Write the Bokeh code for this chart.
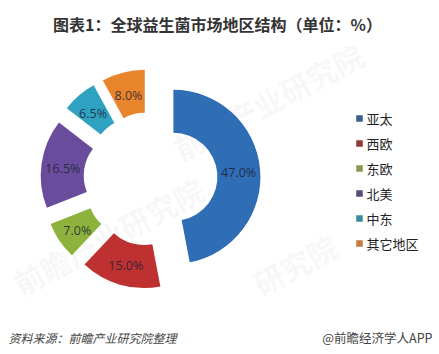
import math
from bokeh.plotting import figure
from bokeh.models import Range1d, ColumnDataSource
from bokeh.core.properties import value
from bokeh.embed import file_html
from bokeh.resources import INLINE

categories = ["亚太", "西欧", "东欧", "北美", "中东", "其它地区"]
shares = [47.0, 15.0, 7.0, 16.5, 6.5, 8.0]
labels = ["47.0%", "15.0%", "7.0%", "16.5%", "6.5%", "8.0%"]
colors = ["#2f6db5", "#bf3030", "#8db33c", "#6a4c9c", "#2fa2c2", "#e8852c"]
legend_colors = ["#3a5f8f", "#8f3a3c", "#86994f", "#5a4a7a", "#3a8a9c", "#c87a3c"]

W, H = 439, 354
CX, CY = 150.0, H - 178.5
R_OUT, R_IN, EXPLODE = 87.0, 44.0, 23.0
FONT = "Noto Sans CJK SC"

p = figure(width=W, height=H, x_range=Range1d(0, W), y_range=Range1d(0, H),
           output_backend="svg", toolbar_location=None, min_border=0)
p.axis.visible = False
p.grid.visible = False
p.outline_line_color = None
p.background_fill_color = "white"

# watermarks
wm = ColumnDataSource(dict(x=[175, 15, 255], y=[H - 150, H - 285, H - 285],
                           t=["前瞻产业研究院", "前瞻产业研究院", "研究院"]))
p.text(x="x", y="y", text="t", source=wm, angle=math.radians(28),
       text_font=value(FONT), text_font_size="30px", text_font_style="bold",
       text_color="#b0b0b0", text_alpha=0.11, text_baseline="middle")

total = sum(shares)
xs, ys, starts, ends, lx, ly = [], [], [], [], [], []
acc = 0.0
for s in shares:
    t0 = acc / total * 2 * math.pi
    acc += s
    t1 = acc / total * 2 * math.pi
    tm = (t0 + t1) / 2
    cx = CX + EXPLODE * math.sin(tm)
    cy = CY + EXPLODE * math.cos(tm)
    xs.append(cx); ys.append(cy)
    starts.append(math.pi / 2 - t0)
    ends.append(math.pi / 2 - t1)
    rm = (R_OUT + R_IN) / 2
    lx.append(cx + rm * math.sin(tm))
    ly.append(cy + rm * math.cos(tm) - 2)

src = ColumnDataSource(dict(x=xs, y=ys, s=starts, e=ends, c=colors, lx=lx, ly=ly, lab=labels))
p.annular_wedge(x="x", y="y", inner_radius=R_IN, outer_radius=R_OUT,
                start_angle="s", end_angle="e", direction="clock",
                fill_color="c", line_color="#ffffff", line_alpha=0.0, source=src)
p.text(x="lx", y="ly", text="lab", source=src, text_font=value("Open Sans"),
       text_font_size="12.5px", text_color="#1c2236", text_alpha=0.85,
       text_align="center", text_baseline="middle")

# legend
leg_y = [H - (118 + 25 * i) for i in range(len(categories))]
leg = ColumnDataSource(dict(x=[359] * len(categories), tx=[366] * len(categories),
                            y=leg_y, c=legend_colors, t=categories))
p.rect(x="x", y="y", width=6.5, height=6.5, fill_color="c", line_color=None, source=leg)
p.text(x="tx", y="y", text="t", source=leg, text_font=value(FONT),
       text_font_size="13px", text_color="#222222", text_baseline="middle")

# title and notes
p.text(x=[217], y=[H - 23], text=["图表1：全球益生菌市场地区结构（单位：%）"],
       text_font=value(FONT), text_font_size="16px", text_font_style="bold",
       text_color="#333333", text_align="center", text_baseline="middle")
p.text(x=[8], y=[H - 337], text=["资料来源：前瞻产业研究院整理"],
       text_font=value(FONT), text_font_size="12px", text_font_style="italic",
       text_color="#444444", text_baseline="middle")
p.text(x=[432], y=[H - 337], text=["@前瞻经济学人APP"],
       text_font=value(FONT), text_font_size="12.5px",
       text_color="#444444", text_align="right", text_baseline="middle")

open("out.html", "w").write(file_html(p, INLINE))
